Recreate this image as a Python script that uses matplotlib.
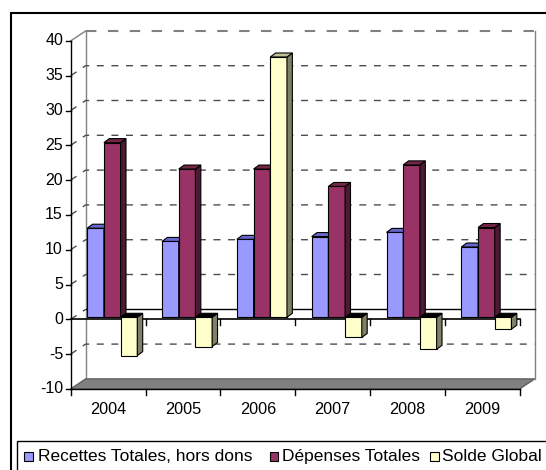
import matplotlib
matplotlib.use('Agg')
import matplotlib.pyplot as plt
from matplotlib.patches import Rectangle, Polygon

plt.rcParams['font.family'] = ['Liberation Sans', 'DejaVu Sans']

# data
years = ['2004', '2005', '2006', '2007', '2008', '2009']
recettes = [12.8, 10.9, 11.2, 11.6, 12.2, 10.1]
depenses = [25.1, 21.3, 21.3, 18.8, 21.9, 12.9]
solde = [-5.5, -4.2, 37.4, -2.9, -4.6, -1.7]
names = ['Recettes Totales, hors dons', 'Dépenses Totales', 'Solde Global']
yticks = list(range(-10, 45, 5))

# front / top / side colours for each series
front_c = ['#9999FF', '#993366', '#FFFFCC']
top_c = ['#6666CC', '#732646', '#BFBF99']
side_c = ['#4D4D99', '#4D1A33', '#808066']

# layout in pixels
W, H = 546, 470
X0, CW = 70.7, 74.83   # left of front plane, width of one category
Y0, PU = 319.3, 6.96   # pixel row of 0 on front plane, pixels per unit
DX, DY = 15 / CW, 10 / PU   # depth of the box
BW = 16.7 / CW
OFF = 16.5 / CW
B0 = 2 / PU
DDX, DDY = 5.4 / CW, 4 / PU

fig = plt.figure(figsize=(W / 100, H / 100), dpi=100)
ax = fig.add_axes([0, 0, 1, 1])
ax.set_xlim(-X0 / CW, (W - X0) / CW)
ax.set_ylim((Y0 - H) / PU, Y0 / PU)
ax.axis('off')

n = len(years)
ymin, ymax = yticks[0], yticks[-1]
grid_ls = (0, (5, 5.5))

# back wall
ax.add_patch(Rectangle((DX, ymin + DY), n, ymax - ymin, fc='white', ec='none', zorder=1))
ax.plot([DX, DX], [ymin + DY, ymax + DY], color='#808080', lw=1, zorder=2)
ax.plot([n + DX, n + DX], [ymin + DY, ymax + DY], color='#808080', lw=1, zorder=2)
ax.plot([DX, n + DX], [ymax + DY, ymax + DY], color='#808080', lw=1.5, ls=grid_ls, zorder=2)
ax.plot([0, DX], [ymax, ymax + DY], color='#808080', lw=1, zorder=2)

for v in yticks[1:-1]:
    if v == 0:
        ax.plot([0, DX], [0, DY], color='#4d4d4d', lw=1, ls=grid_ls, zorder=2)
        ax.plot([DX, n + DX], [DY, DY], color='black', lw=1, zorder=2)
    else:
        ax.plot([0, DX, n + DX], [v, v + DY, v + DY], color='#4d4d4d', lw=1, ls=grid_ls, zorder=2)

# floor
ax.add_patch(Polygon([(0, ymin), (n, ymin), (n + DX, ymin + DY), (DX, ymin + DY)],
                     closed=True, fc='#808080', ec='#606060', lw=1, zorder=3))

# axes lines and ticks
tk = 6 / PU
ax.plot([0, n], [ymin, ymin], color='black', lw=1, zorder=4)
ax.plot([0, n], [0, 0], color='black', lw=1.2, zorder=4)
for k in range(n + 1):
    ax.plot([k, k], [ymin, ymin - tk], color='black', lw=1, zorder=4)
    if k > 0:
        ax.plot([k, k], [0, -tk], color='black', lw=1, zorder=4)
ax.plot([0, 0], [ymin, ymax], color='black', lw=1, zorder=4)
for v in yticks:
    ax.plot([0, -5 / CW], [v, v], color='black', lw=1, zorder=4)
    ax.text(-7.7 / CW, v, str(v), ha='right', va='center', fontsize=11.5)

for i, y in enumerate(years):
    ax.text(i + 0.5, ymin - 20.6 / PU, y, ha='center', va='center', fontsize=11.7)

# bars with fake 3d faces
for j, vals in enumerate([recettes, depenses, solde]):
    xs = [i + OFF + j * BW for i in range(n)]
    bars = ax.bar(xs, vals, width=BW, bottom=B0, align='edge', color=front_c[j],
                  edgecolor='black', lw=0.8)
    for i, (b, v) in enumerate(zip(bars, vals)):
        z = 10 + i * 10 + j * 3
        b.set_zorder(z)
        x = xs[i]
        hi = B0 + max(v, 0)
        lo = B0 + min(v, 0)
        side = [(x + BW, lo), (x + BW, hi), (x + BW + DDX, hi + DDY), (x + BW + DDX, lo + DDY)]
        top = [(x, hi), (x + BW, hi), (x + BW + DDX, hi + DDY), (x + DDX, hi + DDY)]
        ax.add_patch(Polygon(side, closed=True, fc=side_c[j], ec='black', lw=0.8, zorder=z + 1))
        ax.add_patch(Polygon(top, closed=True, fc=top_c[j] if v > 0 else 'black',
                             ec='black', lw=0.8, zorder=z + 2))

# outer frame and legend box
fig.add_artist(Rectangle((11 / W, -5 / H), (W + 10 - 11) / W, (H - 12.7 + 5) / H,
                         transform=fig.transFigure, fill=False, ec='black', lw=1.5))
fig.add_artist(Rectangle((17.3 / W, -5 / H), (W + 10 - 17.3) / W, (H - 441 + 5) / H,
                         transform=fig.transFigure, fill=False, ec='black', lw=1))

mark_x = [24, 270, 430]
text_x = [37.7, 282.3, 442.5]
for j in range(3):
    fig.add_artist(Rectangle((mark_x[j] / W, (H - 460.7) / H), 8.5 / W, 8.4 / H,
                             transform=fig.transFigure, fc=front_c[j], ec='black', lw=0.8))
    fig.text(text_x[j] / W, (H - 456.5) / H, names[j], ha='left', va='center', fontsize=12.5)

fig.savefig('out.png', dpi=100)
